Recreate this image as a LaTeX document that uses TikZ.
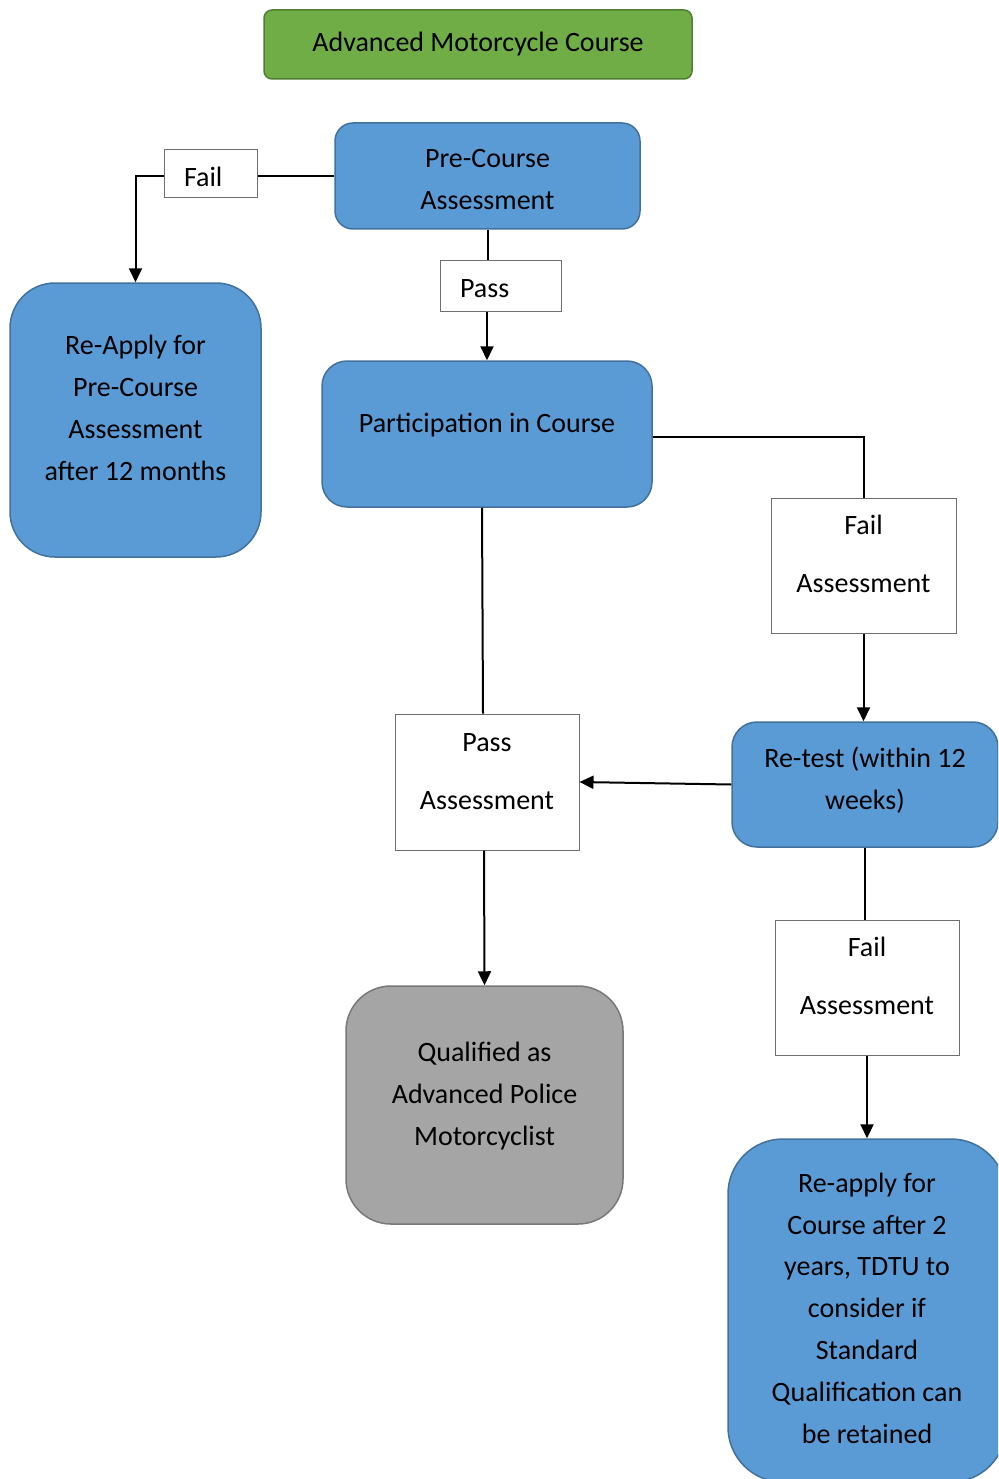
\documentclass[tikz,border=0pt]{standalone}
\usepackage{fontspec}
\setmainfont{Carlito}
\usetikzlibrary{arrows.meta}

\definecolor{bluefill}{HTML}{5B9BD5}
\definecolor{blueline}{HTML}{41719C}
\definecolor{greenfill}{HTML}{70AD47}
\definecolor{greenline}{HTML}{507E32}
\definecolor{grayfill}{HTML}{A5A5A5}
\definecolor{grayline}{HTML}{787878}
\definecolor{boxline}{HTML}{6F6F6F}

\begin{document}
\begin{tikzpicture}[x=1pt,y=-1pt,
  base/.style={inner sep=0pt, align=center, font=\fontsize{28}{42}\selectfont},
  stage/.style={base, draw=blueline, fill=bluefill, line width=1.5pt, rounded corners=#1},
  stage/.default=20pt,
  titlebox/.style={base, draw=greenline, fill=greenfill, line width=1.5pt, rounded corners=8pt},
  endbox/.style={base, draw=grayline, fill=grayfill, line width=1.5pt, rounded corners=45pt},
  tagbox/.style={base, draw=boxline, fill=white, line width=1pt},
  twotag/.style={tagbox, font=\fontsize{28}{58}\selectfont},
  link/.style={line width=2pt, draw=black},
  flow/.style={link, -{Triangle[width=13pt,length=14pt]}}
]
\useasboundingbox (0,0) rectangle (998,1479);
\clip (0,0) rectangle (998,1479);

% heading
\node[titlebox, minimum width=428pt, text height=42pt, text depth=27pt]
  (title) at (478,44.5) {Advanced Motorcycle Course};

% pre-course stage (text height runs from the top edge to the last baseline)
\node[stage=18pt, minimum width=305pt, text height=87pt, text depth=19pt]
  (pre) at (487.5,176) {Pre-Course\\Assessment};
\node[tagbox, align=left, text width=53pt, inner xsep=20pt, text height=37pt, text depth=11pt]
  (fail1) at (210.5,174) {Fail};
\node[stage=45pt, minimum width=251pt, text height=197pt, text depth=77pt]
  (reapply) at (135.5,420) {Re-Apply for\\Pre-Course\\Assessment\\after 12 months};
\node[tagbox, align=left, text width=81pt, inner xsep=20pt, text height=37pt, text depth=14pt]
  (pass1) at (500.5,285.5) {Pass};

% course
\node[stage=25pt, minimum width=330pt, text height=71pt, text depth=75pt]
  (part) at (487,434) {Participation in Course};
\node[twotag, minimum width=185pt, text height=94pt, text depth=41pt]
  (failA) at (863.5,565.5) {Fail\\Assessment};
\node[stage=25pt, minimum width=266pt, text height=87pt, text depth=38pt]
  (retest) at (865,784.5) {Re-test (within 12\\weeks)};
\node[twotag, minimum width=184pt, text height=95pt, text depth=41pt]
  (passA) at (487,782) {Pass\\Assessment};

% outcomes
\node[endbox, minimum width=277pt, text height=159pt, text depth=79pt]
  (qual) at (484.5,1105) {Qualified as\\Advanced Police\\Motorcyclist};
\node[twotag, minimum width=184pt, text height=94pt, text depth=41pt]
  (failB) at (867,987.5) {Fail\\Assessment};
\node[stage=55pt, minimum width=278pt, text height=304pt, text depth=39pt, font=\fontsize{28}{41.8}\selectfont]
  (reapplyB) at (867,1310.5) {Re-apply for\\Course after 2\\years, TDTU to\\consider if\\Standard\\Qualification can\\be retained};

% connectors
\draw[link] (pre.west) -- (pre.west -| fail1.east);
\draw[flow] (pre.west -| fail1.west) -| (reapply.north);
\draw[link] (pre.south) -- (pre.south |- pass1.north);
\draw[flow] (pass1.south -| part.north) -- (part.north);
\draw[link] ([yshift=-3pt]part.east) -| (failA.north);
\draw[flow] (failA.south) -- (failA.south |- retest.north);
\draw[link] ([xshift=-5pt]part.south) -- ([xshift=-4pt]passA.north);
\draw[flow] (retest.west) -- (passA.east);
\draw[flow] ([xshift=-3pt]passA.south) -- (qual.north);
\draw[link] (retest.south) -- (retest.south |- failB.north);
\draw[flow] (failB.south) -- (reapplyB.north);
\end{tikzpicture}
\end{document}
